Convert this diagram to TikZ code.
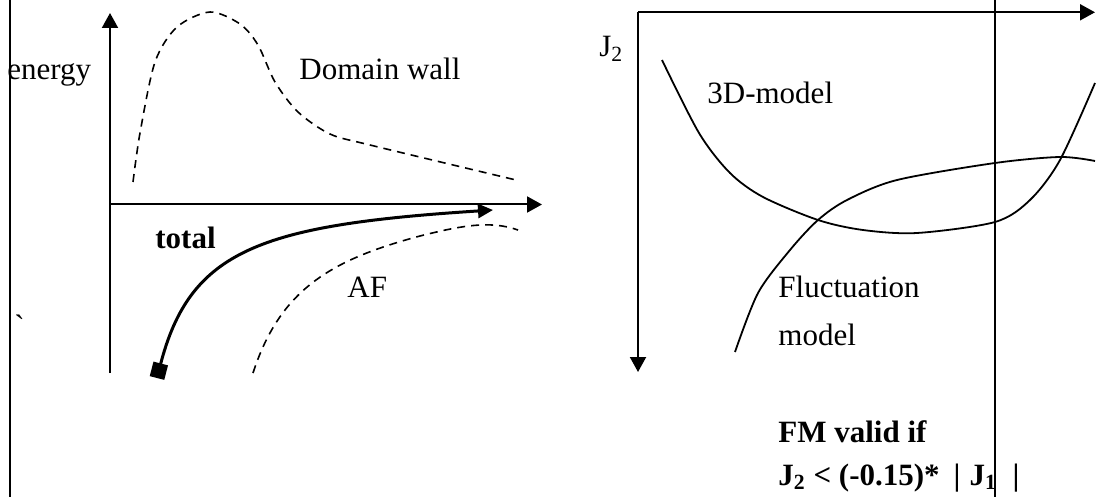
\documentclass[tikz,border=0pt]{standalone}
\usepackage{fontspec}
\setmainfont{Liberation Serif}
\usetikzlibrary{arrows.meta}

\begin{document}
\begin{tikzpicture}[
    x=0.5pt, y=-0.5pt,
    lbl/.style={inner sep=0pt, anchor=base west, font=\fontsize{15.5}{18}\selectfont},
    axis/.style={line width=1pt, -{Triangle[length=7.5pt,width=8pt]}},
    frame/.style={line width=1.3pt},
    dashcurve/.style={line width=0.8pt, dash pattern=on 4pt off 3pt},
    modelcurve/.style={line width=0.9pt},
]
\useasboundingbox (0,0) rectangle (1101,497);

% labels
\node[lbl] (energy) at (7,80) {energy};
\node[lbl] (dw) at (299,80) {Domain wall};
\node[lbl, font=\fontsize{15.5}{18}\selectfont\bfseries] (total) at (155,249) {total};
\node[lbl] (af) at (347,297) {AF};
\node[lbl] (tick) at (14,336) {\textasciigrave};
\node[lbl] (jtwo) at (599,57) {J\textsubscript{2}};
\node[lbl] (threeD) at (707,104) {3D-model};
\node[lbl] (fluct) at (778,297) {Fluctuation};
\node[lbl] (fmodel) at (778,345) {model};
\node[lbl, font=\fontsize{15.5}{18}\selectfont\bfseries] (valid) at (778,442) {FM valid if};
\node[lbl, font=\fontsize{15.5}{18}\selectfont\bfseries] (cond) at (778,485)
  {J\textsubscript{2} < (-0.15)*\hspace{0.45em}|\hspace{0.3em}J\textsubscript{1}\hspace{0.5em}|};

% left plot
\coordinate (lo) at (110,204.5);
\draw[axis] (110,373) -- (110,13);
\draw[axis] (lo) -- (542,204.5);
\draw[dashcurve] plot[smooth] coordinates {(133,182) (140,133) (155,62) (177,27) (210,12)
  (240,24) (258,45) (275,82) (298,112) (330,134) (370,145) (516,180)};
\draw[dashcurve] (253,373) .. controls (280,290) and (330,260) .. (420,236)
  .. controls (460,226) and (490,220) .. (518,230);
\draw[line width=1.5pt, {Square[length=7.5pt,width=7.5pt]}-{Triangle[length=7.5pt,width=7pt]}]
  (157,378) .. controls (190,250) and (260,225) .. (493,210);

% right plot
\coordinate (ro) at (638,12.3);
\draw[axis] (ro) -- (1095,12.3);
\draw[axis] (ro) -- (638,372);
\draw[modelcurve] plot[smooth] coordinates {(662,60) (699,133) (730,173) (763,197) (818,220)
  (863,230) (917,233) (995,222) (1030,200) (1060,160) (1095,83)};
\draw[modelcurve] plot[smooth] coordinates {(735,352) (758,293) (790,250) (818,220) (847,200)
  (897,180) (995,163) (1060,157) (1095,161)};

% frame lines
\draw[frame] (10,0) -- (10,497);
\draw[frame] (995,0) -- (995,497);
\end{tikzpicture}
\end{document}
